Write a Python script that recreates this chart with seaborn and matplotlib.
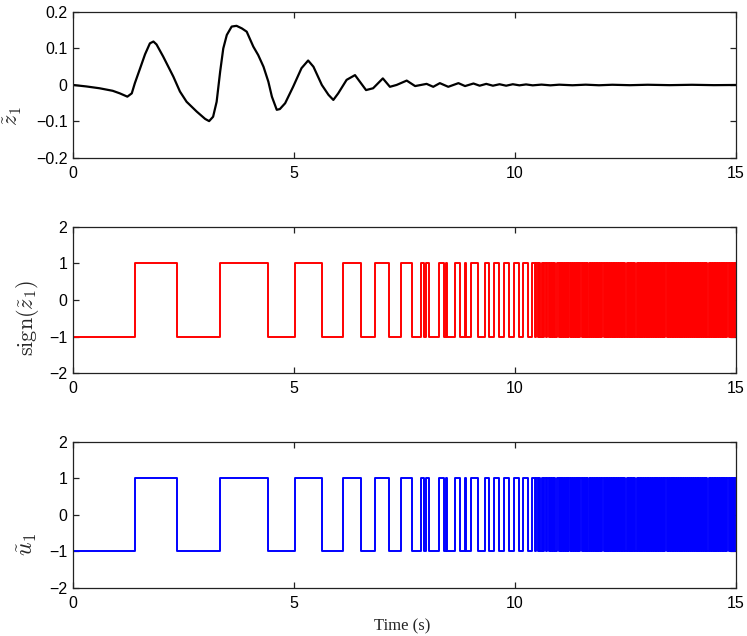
import numpy as np
import pandas as pd
import matplotlib
matplotlib.use("Agg")
import matplotlib.pyplot as plt
import seaborn as sns

''' Data read off the reference '''
# estimation error z1 (time in s, value)
z1_t = [0.00, 0.30, 0.60, 0.90, 1.06, 1.23, 1.33, 1.40, 1.52, 1.63, 1.74, 1.82, 1.89,
        2.04, 2.27, 2.42, 2.57, 2.80, 2.99, 3.08, 3.17, 3.25, 3.33, 3.40, 3.48, 3.59,
        3.70, 3.82, 3.93, 4.08, 4.19, 4.31, 4.42, 4.50, 4.61, 4.68, 4.80, 4.98, 5.17,
        5.32, 5.44, 5.63, 5.78, 5.89, 6.00, 6.19, 6.38, 6.49, 6.63, 6.79, 7.01, 7.17,
        7.32, 7.55, 7.74, 8.00, 8.15, 8.30, 8.49, 8.72, 8.87, 9.06, 9.20, 9.35, 9.50,
        9.65, 9.80, 9.95, 10.10, 10.25, 10.40, 10.60, 10.80, 11.00, 11.30, 11.60,
        11.90, 12.20, 12.60, 13.00, 13.50, 14.00, 14.50, 15.00]
z1_val = [0.000, -0.004, -0.009, -0.016, -0.023, -0.032, -0.023, 0.005, 0.046, 0.084,
          0.114, 0.119, 0.111, 0.078, 0.023, -0.018, -0.046, -0.073, -0.093, -0.099,
          -0.087, -0.046, 0.037, 0.100, 0.137, 0.160, 0.162, 0.155, 0.146, 0.105,
          0.082, 0.050, 0.009, -0.032, -0.068, -0.066, -0.050, -0.005, 0.046, 0.067,
          0.050, 0.000, -0.027, -0.041, -0.023, 0.014, 0.027, 0.009, -0.014, -0.009,
          0.018, -0.005, 0.000, 0.012, -0.003, 0.003, -0.005, 0.005, -0.005, 0.005,
          -0.003, 0.004, -0.002, 0.003, -0.002, 0.002, -0.002, 0.002, -0.001, 0.0015,
          -0.001, 0.001, -0.001, 0.0008, -0.0008, 0.0008, -0.0008, 0.0006, -0.0006,
          0.0006, -0.0005, 0.0005, -0.0005, 0.000]

# switching instants of sign(z1); starts at +1, alternates at every instant
sign_start = 1
sign_switch_t = [
    0.00, 1.40, 2.35, 3.33, 4.42, 5.02, 5.64, 6.10, 6.52, 6.84, 7.16, 7.41, 7.68,
    7.87, 7.93, 7.98, 8.05, 8.28, 8.39, 8.44, 8.47, 8.64, 8.76, 8.86, 8.89, 9.00,
    9.17, 9.32, 9.42, 9.53, 9.64, 9.76, 9.87, 9.98, 10.08, 10.19, 10.30, 10.38, 10.45,
    10.48, 10.51, 10.54, 10.57, 10.60, 10.63, 10.66, 10.69, 10.72, 10.765, 10.79, 10.815,
    10.84, 10.865, 10.89, 10.915, 10.96, 10.985, 11.01,
    11.03, 11.05, 11.07, 11.09, 11.11, 11.13, 11.15, 11.17, 11.19, 11.21, 11.255, 11.275,
    11.295, 11.315, 11.335, 11.355, 11.375, 11.395, 11.415, 11.435, 11.455, 11.475, 11.52,
    11.54, 11.56, 11.58, 11.60, 11.62, 11.64, 11.685, 11.705, 11.725, 11.745, 11.765,
    11.785, 11.805, 11.825, 11.845, 11.865, 11.885, 11.905, 11.925, 11.945, 11.965, 12.01,
    12.03, 12.05, 12.07, 12.09, 12.11, 12.13, 12.15, 12.17, 12.19, 12.21, 12.23, 12.25,
    12.27, 12.29, 12.31, 12.33, 12.35, 12.37, 12.39, 12.41, 12.43, 12.45, 12.47, 12.49,
    12.535, 12.555, 12.575, 12.595, 12.615, 12.635, 12.655, 12.675, 12.695, 12.715,
    12.76, 12.78, 12.80, 12.82, 12.84, 12.86, 12.88, 12.90, 12.92, 12.94, 12.96, 12.98,
    13.00, 13.02, 13.04, 13.06, 13.08, 13.10, 13.12, 13.14, 13.16, 13.18, 13.20, 13.22,
    13.24, 13.26, 13.28, 13.30, 13.32, 13.34, 13.36, 13.38, 13.40, 13.445, 13.465, 13.485,
    13.505, 13.525, 13.545, 13.565, 13.585, 13.605, 13.625, 13.645, 13.665, 13.685,
    13.705, 13.725, 13.745, 13.765, 13.785, 13.805, 13.825, 13.845, 13.865, 13.885,
    13.905, 13.925, 13.97, 13.99, 14.01, 14.03, 14.05, 14.07, 14.09, 14.11, 14.13,
    14.15, 14.17, 14.19, 14.21, 14.23, 14.25, 14.27, 14.29, 14.31, 14.33, 14.35, 14.395,
    14.415, 14.435, 14.455, 14.475, 14.495, 14.515, 14.535, 14.555, 14.575, 14.595,
    14.615, 14.635, 14.655, 14.675, 14.695, 14.715, 14.735, 14.755, 14.775, 14.795,
    14.84, 14.86, 14.88, 14.90, 14.92, 14.94, 14.96, 14.98]

# the control u1 switches at the same instants as sign(z1)
u1_start = 1
u1_switch_t = list(sign_switch_t)

t_end = 15.0
x_ticks = [0, 5, 10, 15]
z1_ticks = [-0.2, -0.1, 0, 0.1, 0.2]
sw_ticks = [-2, -1, 0, 1, 2]


def stepFrame(start, switches, tEnd):
    # build a step-post table: value holds until the next instant
    t = [0.0] + list(switches) + [tEnd]
    v = [start]
    for _ in switches:
        v.append(-v[-1])
    v.append(v[-1])
    return pd.DataFrame({'t': t, 'v': v})


if __name__ == '__main__':
    sns.set_theme(style='ticks')
    plt.rcParams['font.family'] = ['Liberation Sans', 'DejaVu Sans']
    plt.rcParams['mathtext.fontset'] = 'cm'
    plt.rcParams['xtick.labelsize'] = 11.5
    plt.rcParams['ytick.labelsize'] = 11.5
    plt.rcParams['axes.linewidth'] = 0.9
    plt.rcParams['axes.edgecolor'] = '#222222'

    fig = plt.figure(figsize=(7.47, 6.36), dpi=100)
    ax1 = fig.add_axes([0.0977, 0.7516, 0.8876, 0.2296])
    ax2 = fig.add_axes([0.0977, 0.4135, 0.8876, 0.2296])
    ax3 = fig.add_axes([0.0977, 0.0755, 0.8876, 0.2296])

    dfZ = pd.DataFrame({'t': z1_t, 'v': z1_val})
    dfSign = stepFrame(sign_start, sign_switch_t, t_end)
    dfU = stepFrame(u1_start, u1_switch_t, t_end)

    sns.lineplot(data=dfZ, x='t', y='v', ax=ax1, color='black', linewidth=1.6,
                 estimator=None, sort=False)
    sns.lineplot(data=dfSign, x='t', y='v', ax=ax2, color='#ff0000', linewidth=1.4,
                 estimator=None, sort=False, drawstyle='steps-post')
    sns.lineplot(data=dfU, x='t', y='v', ax=ax3, color='#0000ff', linewidth=1.4,
                 estimator=None, sort=False, drawstyle='steps-post')

    ''' Axes settings '''
    for ax in (ax1, ax2, ax3):
        ax.set_xlim(0, t_end)
        ax.set_xticks(x_ticks)
        ax.set_xticklabels([str(x) for x in x_ticks])
        ax.tick_params(direction='in', top=True, right=True, length=4, width=0.9,
                       pad=6, colors='#222222', labelcolor='black')
        ax.tick_params(axis='y', pad=4)
        for spine in ax.spines.values():
            spine.set_visible(True)
        ax.set_xlabel('')

    ax1.set_ylim(-0.2, 0.2)
    ax1.set_yticks(z1_ticks)
    ax1.set_yticklabels(['\u22120.2', '\u22120.1', '0', '0.1', '0.2'])
    for ax in (ax2, ax3):
        ax.set_ylim(-2, 2)
        ax.set_yticks(sw_ticks)
        ax.set_yticklabels(['\u22122', '\u22121', '0', '1', '2'])

    ax1.set_ylabel(r'$\tilde{z}_1$', fontsize=16)
    ax2.set_ylabel(r'$\mathrm{sign}(\tilde{z}_1)$', fontsize=16)
    ax3.set_ylabel(r'$\tilde{u}_1$', fontsize=17)
    ax1.yaxis.set_label_coords(-0.074, 0.29)
    ax2.yaxis.set_label_coords(-0.048, 0.38)
    ax3.yaxis.set_label_coords(-0.052, 0.30)

    ax3.set_xlabel('Time (s)', fontsize=12, family='Liberation Serif')
    ax3.xaxis.set_label_coords(0.496, -0.21)
    ax3.xaxis.label.set_verticalalignment('top')

    plt.savefig('out.png', dpi=100)
